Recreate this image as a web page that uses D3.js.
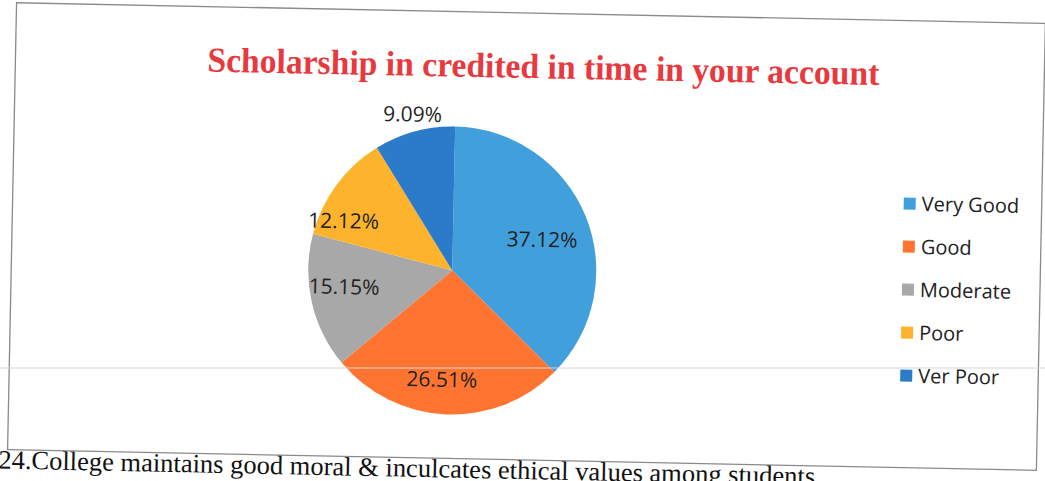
<!DOCTYPE html>
<html><head><meta charset="utf-8">
<script src="https://cdn.jsdelivr.net/npm/d3@7"></script>
<style>html,body{margin:0;padding:0;background:#fff;overflow:hidden}</style>
</head><body>
<svg id="chart" width="1045" height="481"></svg>
<script>
const categories = ["Very Good", "Good", "Moderate", "Poor", "Ver Poor"];
const values = [37.12, 26.51, 15.15, 12.12, 9.09];
const labels = ["37.12%", "26.51%", "15.15%", "12.12%", "9.09%"];
const colors = ["#41A0DB", "#FF7431", "#A8A8A8", "#FDB42C", "#2C7BC9"];
const title = "Scholarship in credited in time in your account";
const caption = "24.College maintains good moral & inculcates ethical values among students";

const svg = d3.select("#chart");
const W = 1045, H = 481;
const g = svg.append("g").attr("transform", "rotate(1.15,526,235)");

// chart border
g.append("rect").attr("x", 12).attr("y", 13).attr("width", 1029).attr("height", 447)
  .attr("fill", "#fff").attr("stroke", "#8a8a8a").attr("stroke-width", 1.3);

g.append("text").attr("x", 540).attr("y", 78).attr("text-anchor", "middle")
  .attr("font-family", "'Liberation Serif','Times New Roman',serif").attr("font-weight", "bold")
  .attr("font-size", 35).attr("textLength", 672).attr("lengthAdjust", "spacingAndGlyphs")
  .attr("fill", "#E8393F").text(title);

const cx = 453, cy = 272, r = 144;
const pie = d3.pie().sort(null).value(d => d)(values);
const arc = d3.arc().innerRadius(0).outerRadius(r);
const pg = g.append("g").attr("transform", `translate(${cx},${cy})`);
pg.selectAll("path").data(pie).join("path").attr("d", arc).attr("fill", (d, i) => colors[i]);

// label placement: polar nudges relative to slice mid angle (radius factor, angle offset deg)
const nudge = [[0.66, 3], [0.76, 3], [0.76, 4], [0.83, -12], [1.12, 1]];
pg.selectAll("text").data(pie).join("text")
  .attr("transform", (d, i) => {
    const a = (d.startAngle + d.endAngle) / 2 + nudge[i][1] * Math.PI / 180;
    const rr = r * nudge[i][0];
    return `translate(${rr * Math.sin(a)},${-rr * Math.cos(a)})`;
  })
  .attr("text-anchor", "middle").attr("dy", "0.35em")
  .attr("font-family", "'Open Sans',sans-serif").attr("font-size", 21)
  .attr("fill", "#222").text((d, i) => labels[i]);

// legend
const ly = d3.scalePoint().domain(categories).range([196, 368]);
const lg = g.append("g");
categories.forEach((c, i) => {
  lg.append("rect").attr("x", 903).attr("y", ly(c) - 6).attr("width", 12).attr("height", 12).attr("fill", colors[i]);
  lg.append("text").attr("x", 921).attr("y", ly(c)).attr("dy", "0.35em")
    .attr("font-family", "'Open Sans',sans-serif").attr("font-size", 20).attr("fill", "#222").text(c);
});

g.append("text").attr("x", 3).attr("y", 479)
  .attr("font-family", "'Liberation Serif','Times New Roman',serif").attr("font-size", 26.5)
  .attr("fill", "#111").text(caption);

// faint scan line
svg.append("line").attr("x1", 0).attr("x2", W).attr("y1", 368).attr("y2", 368)
  .attr("stroke", "#d6d6d6").attr("stroke-width", 1);
</script>
</body></html>
